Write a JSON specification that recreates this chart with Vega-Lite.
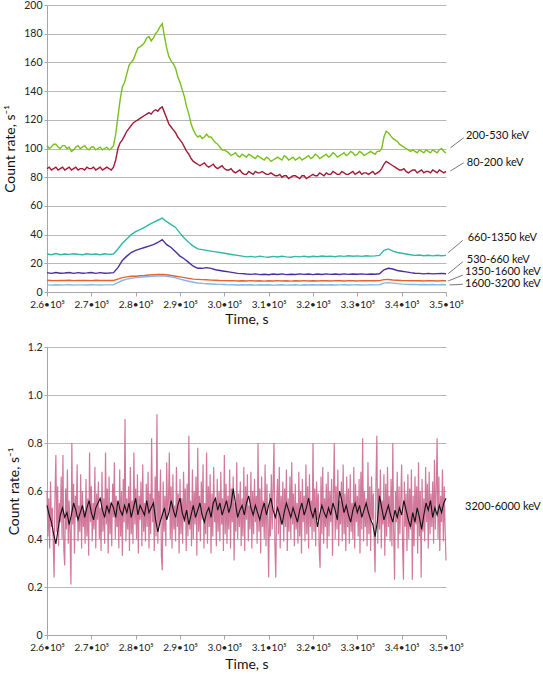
{
  "$schema": "https://vega.github.io/schema/vega-lite/v6.json",
  "padding": {"left": 3, "top": 0, "right": 0, "bottom": 0},
  "spacing": 16,
  "config": {
    "font": "Lato",
    "view": {"stroke": null},
    "axis": {
      "labelFont": "Lato", "titleFont": "Lato", "labelColor": "#222", "titleColor": "#111",
      "domainColor": "#a6a6a6", "tickColor": "#a6a6a6", "gridColor": "#b8b8b8",
      "labelFontSize": 10.5, "titleFontSize": 14, "titleFontWeight": "normal", "tickSize": 4, "labelOverlap": false
    }
  },
  "datasets": {
    "top": [
      {"t":260000,"g":102,"r":86,"c":26.5,"p":13.5,"o":8.2,"b":5},
      {"t":261000,"g":101,"r":85,"c":26,"p":13,"o":8,"b":4.8},
      {"t":262000,"g":103,"r":87,"c":26.8,"p":13.6,"o":7.9,"b":5.1},
      {"t":263000,"g":100,"r":86,"c":26,"p":13.1,"o":8.1,"b":4.9},
      {"t":264000,"g":102,"r":85,"c":26.5,"p":13.2,"o":8,"b":5},
      {"t":265000,"g":101,"r":87,"c":26.2,"p":13.6,"o":8.2,"b":5.1},
      {"t":266000,"g":99,"r":86,"c":26.7,"p":13,"o":7.9,"b":4.8},
      {"t":267000,"g":102,"r":85,"c":26.3,"p":13.5,"o":8,"b":5},
      {"t":268000,"g":101,"r":86,"c":26,"p":13.1,"o":8.1,"b":5},
      {"t":269000,"g":100,"r":87,"c":26.6,"p":13.3,"o":8,"b":4.9},
      {"t":270000,"g":101,"r":86,"c":26.1,"p":13.6,"o":7.9,"b":5.1},
      {"t":271000,"g":99,"r":85,"c":26.5,"p":13,"o":8.2,"b":5},
      {"t":272000,"g":101,"r":87,"c":26,"p":13.5,"o":8,"b":4.9},
      {"t":273000,"g":100,"r":86,"c":26.6,"p":13.1,"o":8.1,"b":5},
      {"t":274000,"g":99,"r":86,"c":26.2,"p":13.2,"o":8,"b":5},
      {"t":275000,"g":102,"r":87,"c":26.5,"p":13.5,"o":8,"b":5.1},
      {"t":276000,"g":122,"r":100,"c":30,"p":17,"o":9,"b":6.5},
      {"t":277000,"g":143,"r":106,"c":34,"p":22,"o":10,"b":8},
      {"t":278000,"g":152,"r":112,"c":37,"p":25,"o":10.5,"b":9},
      {"t":279000,"g":160,"r":116,"c":40,"p":27.5,"o":11,"b":9.5},
      {"t":280000,"g":166,"r":119,"c":42,"p":29,"o":11,"b":10},
      {"t":281000,"g":171,"r":121,"c":43.5,"p":30,"o":11.3,"b":10.3},
      {"t":282000,"g":174,"r":123,"c":45,"p":31,"o":11.5,"b":10.6},
      {"t":283000,"g":178,"r":125,"c":47,"p":32,"o":11.8,"b":10.8},
      {"t":284000,"g":177,"r":126,"c":48.5,"p":33,"o":12,"b":11},
      {"t":285000,"g":182,"r":126,"c":50,"p":34.5,"o":12.2,"b":11.2},
      {"t":286000,"g":187,"r":129,"c":51.5,"p":36.5,"o":12.3,"b":11.3},
      {"t":287000,"g":170,"r":121,"c":49,"p":33,"o":12,"b":11},
      {"t":288000,"g":161,"r":115,"c":47,"p":31,"o":11.5,"b":10.5},
      {"t":289000,"g":156,"r":111,"c":45,"p":28,"o":11,"b":9.8},
      {"t":290000,"g":146,"r":106,"c":41,"p":25,"o":10.5,"b":9},
      {"t":291000,"g":136,"r":101,"c":37.5,"p":23,"o":10,"b":8.2},
      {"t":292000,"g":124,"r":96,"c":34.5,"p":20.5,"o":9.5,"b":7.5},
      {"t":293000,"g":113,"r":91,"c":32,"p":18,"o":9,"b":6.8},
      {"t":294000,"g":108,"r":89,"c":30,"p":16.5,"o":8.8,"b":6.3},
      {"t":295000,"g":107,"r":89,"c":29.5,"p":16.5,"o":8.6,"b":6},
      {"t":296000,"g":110,"r":88,"c":29,"p":17,"o":8.5,"b":5.8},
      {"t":297000,"g":108,"r":88,"c":28.5,"p":16.5,"o":8.3,"b":5.6},
      {"t":298000,"g":104,"r":87,"c":28,"p":15.5,"o":8.2,"b":5.4},
      {"t":299000,"g":101,"r":87,"c":27.5,"p":15,"o":8,"b":5.3},
      {"t":300000,"g":99,"r":86,"c":27,"p":14.5,"o":7.9,"b":5.2},
      {"t":301000,"g":97,"r":85,"c":26.5,"p":14,"o":7.8,"b":5},
      {"t":302000,"g":96,"r":84,"c":26,"p":13.5,"o":7.9,"b":5.1},
      {"t":303000,"g":95,"r":84,"c":25.5,"p":13,"o":7.7,"b":4.9},
      {"t":304000,"g":96,"r":83,"c":25,"p":12.8,"o":7.8,"b":5},
      {"t":305000,"g":94,"r":82,"c":24.5,"p":12.5,"o":7.7,"b":4.9},
      {"t":306000,"g":95,"r":83,"c":24.8,"p":12.3,"o":7.9,"b":5},
      {"t":307000,"g":93,"r":84,"c":24.3,"p":12.6,"o":7.7,"b":4.8},
      {"t":308000,"g":94,"r":83,"c":25,"p":12.1,"o":7.8,"b":5},
      {"t":309000,"g":92,"r":83,"c":24.5,"p":12.4,"o":7.6,"b":4.9},
      {"t":310000,"g":93,"r":82,"c":24.2,"p":12,"o":7.8,"b":5},
      {"t":311000,"g":92,"r":82,"c":24.8,"p":12.5,"o":7.7,"b":4.8},
      {"t":312000,"g":94,"r":81,"c":24.4,"p":12.2,"o":7.9,"b":4.9},
      {"t":313000,"g":92,"r":80,"c":25,"p":12.6,"o":7.7,"b":5},
      {"t":314000,"g":94,"r":81,"c":24.5,"p":12.1,"o":7.8,"b":4.8},
      {"t":315000,"g":93,"r":80,"c":24.2,"p":12.4,"o":7.6,"b":4.9},
      {"t":316000,"g":92,"r":81,"c":24.8,"p":12.2,"o":7.8,"b":5},
      {"t":317000,"g":94,"r":79,"c":24.5,"p":12.6,"o":7.7,"b":4.8},
      {"t":318000,"g":93,"r":81,"c":25,"p":12.3,"o":7.9,"b":5},
      {"t":319000,"g":95,"r":80,"c":24.4,"p":12.5,"o":7.7,"b":4.9},
      {"t":320000,"g":94,"r":82,"c":24.9,"p":12.1,"o":7.8,"b":5},
      {"t":321000,"g":95,"r":81,"c":24.6,"p":12.5,"o":7.7,"b":4.9},
      {"t":322000,"g":94,"r":82,"c":25.1,"p":12.2,"o":7.9,"b":5},
      {"t":323000,"g":96,"r":83,"c":24.7,"p":12.6,"o":7.8,"b":4.9},
      {"t":324000,"g":95,"r":82,"c":25,"p":12.3,"o":7.7,"b":5.1},
      {"t":325000,"g":96,"r":83,"c":24.6,"p":12.5,"o":7.9,"b":4.9},
      {"t":326000,"g":95,"r":82,"c":25.2,"p":12.2,"o":7.8,"b":5},
      {"t":327000,"g":97,"r":83,"c":24.8,"p":12.6,"o":7.7,"b":5.1},
      {"t":328000,"g":96,"r":82,"c":25.3,"p":12.3,"o":7.9,"b":4.9},
      {"t":329000,"g":97,"r":84,"c":24.9,"p":12.5,"o":7.8,"b":5},
      {"t":330000,"g":96,"r":83,"c":25.2,"p":12.4,"o":7.7,"b":5.1},
      {"t":331000,"g":97,"r":82,"c":24.8,"p":12.6,"o":7.9,"b":4.9},
      {"t":332000,"g":96,"r":83,"c":25.3,"p":12.3,"o":7.8,"b":5},
      {"t":333000,"g":98,"r":83,"c":25,"p":12.5,"o":7.9,"b":5.1},
      {"t":334000,"g":96,"r":82,"c":25.2,"p":12.4,"o":7.8,"b":5},
      {"t":335000,"g":98,"r":84,"c":25.5,"p":12.7,"o":7.9,"b":5.1},
      {"t":336000,"g":108,"r":89,"c":29,"p":15.5,"o":8.6,"b":6.2},
      {"t":337000,"g":111,"r":90,"c":30,"p":16.5,"o":8.7,"b":6.5},
      {"t":338000,"g":107,"r":88,"c":28.5,"p":16,"o":8.4,"b":6.2},
      {"t":339000,"g":105,"r":86,"c":27.5,"p":15,"o":8.2,"b":5.8},
      {"t":340000,"g":102,"r":85,"c":27,"p":14.5,"o":8,"b":5.5},
      {"t":341000,"g":100,"r":84,"c":26.5,"p":14,"o":7.9,"b":5.3},
      {"t":342000,"g":98,"r":84,"c":26,"p":13.5,"o":7.8,"b":5.2},
      {"t":343000,"g":98,"r":85,"c":25.5,"p":13.1,"o":7.9,"b":5.3},
      {"t":344000,"g":99,"r":84,"c":25.8,"p":13,"o":7.8,"b":5.1},
      {"t":345000,"g":97,"r":83,"c":25.3,"p":12.6,"o":7.7,"b":5.2},
      {"t":346000,"g":98,"r":84,"c":25.6,"p":13,"o":7.9,"b":5.1},
      {"t":347000,"g":99,"r":85,"c":25.2,"p":12.6,"o":7.8,"b":5.2},
      {"t":348000,"g":97,"r":83,"c":25.6,"p":12.8,"o":7.7,"b":5},
      {"t":349000,"g":100,"r":84,"c":25.3,"p":13,"o":7.9,"b":5.2},
      {"t":350000,"g":97,"r":84,"c":25.5,"p":12.7,"o":7.8,"b":5.1},
      {"t":260500,"g":100,"r":87},{"t":261500,"g":103,"r":86},{"t":262500,"g":101,"r":85},{"t":263500,"g":102,"r":87},
      {"t":264500,"g":100,"r":86},{"t":265500,"g":98,"r":85},{"t":266500,"g":101,"r":87},{"t":267500,"g":100,"r":86},
      {"t":268500,"g":102,"r":85},{"t":269500,"g":99,"r":86},{"t":270500,"g":101,"r":87},{"t":271500,"g":100,"r":86},
      {"t":272500,"g":99,"r":85},{"t":273500,"g":101,"r":87},{"t":274500,"g":100,"r":85},{"t":275500,"g":110,"r":92},
      {"t":276500,"g":134,"r":104},{"t":277500,"g":146,"r":109},{"t":278500,"g":158,"r":114},{"t":279500,"g":162,"r":118},
      {"t":280500,"g":170,"r":120},{"t":281500,"g":172,"r":122},{"t":282500,"g":177,"r":124},{"t":283500,"g":175,"r":124},
      {"t":284500,"g":180,"r":127},{"t":285500,"g":185,"r":128},{"t":286500,"g":178,"r":125},{"t":287500,"g":164,"r":117},
      {"t":288500,"g":159,"r":113},{"t":289500,"g":150,"r":108},{"t":290500,"g":141,"r":104},{"t":291500,"g":129,"r":98},
      {"t":292500,"g":117,"r":93},{"t":293500,"g":110,"r":90},{"t":294500,"g":109,"r":88},{"t":295500,"g":108,"r":90},
      {"t":296500,"g":108,"r":87},{"t":297500,"g":106,"r":89},{"t":298500,"g":103,"r":86},{"t":299500,"g":99,"r":88},
      {"t":300500,"g":98,"r":85},{"t":301500,"g":95,"r":86},{"t":302500,"g":97,"r":83},{"t":303500,"g":94,"r":85},
      {"t":304500,"g":95,"r":82},{"t":305500,"g":96,"r":84},{"t":306500,"g":94,"r":82},{"t":307500,"g":95,"r":83},
      {"t":308500,"g":93,"r":84},{"t":309500,"g":94,"r":82},{"t":310500,"g":91,"r":83},{"t":311500,"g":93,"r":81},
      {"t":312500,"g":93,"r":82},{"t":313500,"g":95,"r":81},{"t":314500,"g":92,"r":79},{"t":315500,"g":94,"r":81},
      {"t":316500,"g":93,"r":80},{"t":317500,"g":92,"r":81},{"t":318500,"g":94,"r":79},{"t":319500,"g":93,"r":81},
      {"t":320500,"g":96,"r":81},{"t":321500,"g":93,"r":83},{"t":322500,"g":95,"r":81},{"t":323500,"g":94,"r":82},
      {"t":324500,"g":97,"r":84},{"t":325500,"g":94,"r":82},{"t":326500,"g":96,"r":84},{"t":327500,"g":95,"r":82},
      {"t":328500,"g":98,"r":83},{"t":329500,"g":95,"r":82},{"t":330500,"g":98,"r":84},{"t":331500,"g":95,"r":83},
      {"t":332500,"g":97,"r":82},{"t":333500,"g":97,"r":84},{"t":334500,"g":98,"r":83},{"t":335500,"g":100,"r":86},
      {"t":336500,"g":112,"r":91},{"t":337500,"g":109,"r":89},{"t":338500,"g":106,"r":87},{"t":339500,"g":103,"r":85},
      {"t":340500,"g":101,"r":86},{"t":341500,"g":99,"r":83},{"t":342500,"g":99,"r":85},{"t":343500,"g":97,"r":83},
      {"t":344500,"g":98,"r":85},{"t":345500,"g":99,"r":84},{"t":346500,"g":97,"r":83},{"t":347500,"g":98,"r":84},
      {"t":348500,"g":99,"r":85},{"t":349500,"g":98,"r":83}
    ],
    "labs": [
      {"label":"200-530 keV","x1":351000,"y1":100.5,"x2":354000,"y2":107.5,"tx":354500,"ty":108.7},
      {"label":"80-200 keV","x1":351000,"y1":84.3,"x2":354000,"y2":90.1,"tx":354700,"ty":90.1},
      {"label":"660-1350 keV","x1":350500,"y1":27.4,"x2":353800,"y2":36,"tx":354900,"ty":37.8},
      {"label":"530-660 keV","x1":350500,"y1":12.8,"x2":353800,"y2":21.1,"tx":354700,"ty":22.3},
      {"label":"1350-1600 keV","x1":350500,"y1":7.7,"x2":353800,"y2":11.8,"tx":354300,"ty":13.9},
      {"label":"1600-3200 keV","x1":350800,"y1":4.9,"x2":353800,"y2":5.4,"tx":354300,"ty":5.6}
    ],
    "pink": [
      {"t":260000,"v":0.60},{"t":260200,"v":0.41},{"t":260400,"v":0.57},{"t":260600,"v":0.36},{"t":260800,"v":0.64},{"t":261000,"v":0.45},{"t":261200,"v":0.53},{"t":261400,"v":0.39},{"t":261600,"v":0.24},{"t":261800,"v":0.58},
      {"t":262000,"v":0.75},{"t":262200,"v":0.43},{"t":262400,"v":0.62},{"t":262600,"v":0.37},{"t":262800,"v":0.55},{"t":263000,"v":0.47},{"t":263200,"v":0.66},{"t":263400,"v":0.40},{"t":263600,"v":0.75},{"t":263800,"v":0.35},
      {"t":264000,"v":0.29},{"t":264200,"v":0.61},{"t":264400,"v":0.44},{"t":264600,"v":0.69},{"t":264800,"v":0.38},{"t":265000,"v":0.56},{"t":265200,"v":0.42},{"t":265400,"v":0.21},{"t":265600,"v":0.80},{"t":265800,"v":0.46},
      {"t":266000,"v":0.63},{"t":266200,"v":0.34},{"t":266400,"v":0.58},{"t":266600,"v":0.49},{"t":266800,"v":0.71},{"t":267000,"v":0.39},{"t":267200,"v":0.54},{"t":267400,"v":0.43},{"t":267600,"v":0.67},{"t":267800,"v":0.36},
      {"t":268000,"v":0.60},{"t":268200,"v":0.45},{"t":268400,"v":0.52},{"t":268600,"v":0.38},{"t":268800,"v":0.65},{"t":269000,"v":0.41},{"t":269200,"v":0.57},{"t":269400,"v":0.33},{"t":269600,"v":0.76},{"t":269800,"v":0.47},
      {"t":270000,"v":0.62},{"t":270200,"v":0.39},{"t":270400,"v":0.55},{"t":270600,"v":0.44},{"t":270800,"v":0.70},{"t":271000,"v":0.36},{"t":271200,"v":0.59},{"t":271400,"v":0.48},{"t":271600,"v":0.64},{"t":271800,"v":0.40},
      {"t":272000,"v":0.53},{"t":272200,"v":0.35},{"t":272400,"v":0.68},{"t":272600,"v":0.43},{"t":272800,"v":0.57},{"t":273000,"v":0.38},{"t":273200,"v":0.76},{"t":273400,"v":0.46},{"t":273600,"v":0.61},{"t":273800,"v":0.34},
      {"t":274000,"v":0.66},{"t":274200,"v":0.42},{"t":274400,"v":0.55},{"t":274600,"v":0.37},{"t":274800,"v":0.63},{"t":275000,"v":0.49},{"t":275200,"v":0.72},{"t":275400,"v":0.40},{"t":275600,"v":0.58},{"t":275800,"v":0.45},
      {"t":276000,"v":0.54},{"t":276200,"v":0.36},{"t":276400,"v":0.69},{"t":276600,"v":0.41},{"t":276800,"v":0.60},{"t":277000,"v":0.33},{"t":277200,"v":0.65},{"t":277400,"v":0.47},{"t":277600,"v":0.90},{"t":277800,"v":0.39},
      {"t":278000,"v":0.57},{"t":278200,"v":0.44},{"t":278400,"v":0.62},{"t":278600,"v":0.35},{"t":278800,"v":0.70},{"t":279000,"v":0.42},{"t":279200,"v":0.56},{"t":279400,"v":0.38},{"t":279600,"v":0.76},{"t":279800,"v":0.46},
      {"t":280000,"v":0.61},{"t":280200,"v":0.40},{"t":280400,"v":0.67},{"t":280600,"v":0.34},{"t":280800,"v":0.58},{"t":281000,"v":0.48},{"t":281200,"v":0.64},{"t":281400,"v":0.37},{"t":281600,"v":0.71},{"t":281800,"v":0.43},
      {"t":282000,"v":0.55},{"t":282200,"v":0.39},{"t":282400,"v":0.63},{"t":282600,"v":0.45},{"t":282800,"v":0.68},{"t":283000,"v":0.36},{"t":283200,"v":0.59},{"t":283400,"v":0.42},{"t":283600,"v":0.82},{"t":283800,"v":0.47},
      {"t":284000,"v":0.57},{"t":284200,"v":0.35},{"t":284400,"v":0.66},{"t":284600,"v":0.41},{"t":284800,"v":0.92},{"t":285000,"v":0.38},{"t":285200,"v":0.60},{"t":285400,"v":0.46},{"t":285600,"v":0.69},{"t":285800,"v":0.33},
      {"t":286000,"v":0.27},{"t":286200,"v":0.64},{"t":286400,"v":0.43},{"t":286600,"v":0.58},{"t":286800,"v":0.37},{"t":287000,"v":0.72},{"t":287200,"v":0.49},{"t":287400,"v":0.56},{"t":287600,"v":0.76},{"t":287800,"v":0.40},
      {"t":288000,"v":0.62},{"t":288200,"v":0.36},{"t":288400,"v":0.67},{"t":288600,"v":0.44},{"t":288800,"v":0.54},{"t":289000,"v":0.39},{"t":289200,"v":0.70},{"t":289400,"v":0.45},{"t":289600,"v":0.59},{"t":289800,"v":0.34},
      {"t":290000,"v":0.65},{"t":290200,"v":0.42},{"t":290400,"v":0.57},{"t":290600,"v":0.38},{"t":290800,"v":0.68},{"t":291000,"v":0.47},{"t":291200,"v":0.61},{"t":291400,"v":0.35},{"t":291600,"v":0.63},{"t":291800,"v":0.41},
      {"t":292000,"v":0.83},{"t":292200,"v":0.44},{"t":292400,"v":0.56},{"t":292600,"v":0.37},{"t":292800,"v":0.69},{"t":293000,"v":0.40},{"t":293200,"v":0.60},{"t":293400,"v":0.46},{"t":293600,"v":0.66},{"t":293800,"v":0.33},
      {"t":294000,"v":0.78},{"t":294200,"v":0.43},{"t":294400,"v":0.58},{"t":294600,"v":0.39},{"t":294800,"v":0.64},{"t":295000,"v":0.48},{"t":295200,"v":0.71},{"t":295400,"v":0.36},{"t":295600,"v":0.55},{"t":295800,"v":0.42},
      {"t":296000,"v":0.76},{"t":296200,"v":0.38},{"t":296400,"v":0.62},{"t":296600,"v":0.45},{"t":296800,"v":0.67},{"t":297000,"v":0.34},{"t":297200,"v":0.59},{"t":297400,"v":0.41},{"t":297600,"v":0.70},{"t":297800,"v":0.47},
      {"t":298000,"v":0.56},{"t":298200,"v":0.37},{"t":298400,"v":0.65},{"t":298600,"v":0.43},{"t":298800,"v":0.60},{"t":299000,"v":0.39},{"t":299200,"v":0.68},{"t":299400,"v":0.46},{"t":299600,"v":0.57},{"t":299800,"v":0.35},
      {"t":300000,"v":0.75},{"t":300200,"v":0.42},{"t":300400,"v":0.63},{"t":300600,"v":0.38},{"t":300800,"v":0.58},{"t":301000,"v":0.44},{"t":301200,"v":0.69},{"t":301400,"v":0.36},{"t":301600,"v":0.61},{"t":301800,"v":0.47},
      {"t":302000,"v":0.66},{"t":302200,"v":0.31},{"t":302400,"v":0.55},{"t":302600,"v":0.43},{"t":302800,"v":0.72},{"t":303000,"v":0.40},{"t":303200,"v":0.59},{"t":303400,"v":0.45},{"t":303600,"v":0.64},{"t":303800,"v":0.37},
      {"t":304000,"v":0.57},{"t":304200,"v":0.41},{"t":304400,"v":0.70},{"t":304600,"v":0.35},{"t":304800,"v":0.62},{"t":305000,"v":0.48},{"t":305200,"v":0.67},{"t":305400,"v":0.39},{"t":305600,"v":0.54},{"t":305800,"v":0.44},
      {"t":306000,"v":0.68},{"t":306200,"v":0.36},{"t":306400,"v":0.60},{"t":306600,"v":0.42},{"t":306800,"v":0.65},{"t":307000,"v":0.47},{"t":307200,"v":0.58},{"t":307400,"v":0.38},{"t":307600,"v":0.80},{"t":307800,"v":0.43},
      {"t":308000,"v":0.61},{"t":308200,"v":0.34},{"t":308400,"v":0.66},{"t":308600,"v":0.45},{"t":308800,"v":0.56},{"t":309000,"v":0.40},{"t":309200,"v":0.71},{"t":309400,"v":0.37},{"t":309600,"v":0.63},{"t":309800,"v":0.46},
      {"t":310000,"v":0.24},{"t":310200,"v":0.59},{"t":310400,"v":0.41},{"t":310600,"v":0.67},{"t":310800,"v":0.44},{"t":311000,"v":0.62},{"t":311200,"v":0.80},{"t":311400,"v":0.38},{"t":311600,"v":0.24},{"t":311800,"v":0.55},
      {"t":312000,"v":0.65},{"t":312200,"v":0.42},{"t":312400,"v":0.70},{"t":312600,"v":0.36},{"t":312800,"v":0.58},{"t":313000,"v":0.47},{"t":313200,"v":0.64},{"t":313400,"v":0.39},{"t":313600,"v":0.61},{"t":313800,"v":0.45},
      {"t":314000,"v":0.69},{"t":314200,"v":0.35},{"t":314400,"v":0.57},{"t":314600,"v":0.43},{"t":314800,"v":0.66},{"t":315000,"v":0.40},{"t":315200,"v":0.72},{"t":315400,"v":0.46},{"t":315600,"v":0.59},{"t":315800,"v":0.37},
      {"t":316000,"v":0.63},{"t":316200,"v":0.44},{"t":316400,"v":0.55},{"t":316600,"v":0.38},{"t":316800,"v":0.68},{"t":317000,"v":0.41},{"t":317200,"v":0.60},{"t":317400,"v":0.34},{"t":317600,"v":0.65},{"t":317800,"v":0.47},
      {"t":318000,"v":0.58},{"t":318200,"v":0.39},{"t":318400,"v":0.71},{"t":318600,"v":0.42},{"t":318800,"v":0.62},{"t":319000,"v":0.36},{"t":319200,"v":0.67},{"t":319400,"v":0.45},{"t":319600,"v":0.56},{"t":319800,"v":0.40},
      {"t":320000,"v":0.80},{"t":320200,"v":0.43},{"t":320400,"v":0.61},{"t":320600,"v":0.37},{"t":320800,"v":0.64},{"t":321000,"v":0.48},{"t":321200,"v":0.59},{"t":321400,"v":0.35},{"t":321600,"v":0.28},{"t":321800,"v":0.66},
      {"t":322000,"v":0.42},{"t":322200,"v":0.70},{"t":322400,"v":0.38},{"t":322600,"v":0.57},{"t":322800,"v":0.45},{"t":323000,"v":0.63},{"t":323200,"v":0.36},{"t":323400,"v":0.68},{"t":323600,"v":0.41},{"t":323800,"v":0.60},
      {"t":324000,"v":0.47},{"t":324200,"v":0.65},{"t":324400,"v":0.33},{"t":324600,"v":0.58},{"t":324800,"v":0.80},{"t":325000,"v":0.40},{"t":325200,"v":0.62},{"t":325400,"v":0.44},{"t":325600,"v":0.69},{"t":325800,"v":0.37},
      {"t":326000,"v":0.56},{"t":326200,"v":0.46},{"t":326400,"v":0.64},{"t":326600,"v":0.39},{"t":326800,"v":0.71},{"t":327000,"v":0.42},{"t":327200,"v":0.59},{"t":327400,"v":0.35},{"t":327600,"v":0.66},{"t":327800,"v":0.45},
      {"t":328000,"v":0.61},{"t":328200,"v":0.38},{"t":328400,"v":0.67},{"t":328600,"v":0.43},{"t":328800,"v":0.55},{"t":329000,"v":0.40},{"t":329200,"v":0.70},{"t":329400,"v":0.36},{"t":329600,"v":0.63},{"t":329800,"v":0.47},
      {"t":330000,"v":0.58},{"t":330200,"v":0.41},{"t":330400,"v":0.65},{"t":330600,"v":0.34},{"t":330800,"v":0.68},{"t":331000,"v":0.44},{"t":331200,"v":0.82},{"t":331400,"v":0.39},{"t":331600,"v":0.60},{"t":331800,"v":0.45},
      {"t":332000,"v":0.57},{"t":332200,"v":0.37},{"t":332400,"v":0.72},{"t":332600,"v":0.42},{"t":332800,"v":0.62},{"t":333000,"v":0.35},{"t":333200,"v":0.66},{"t":333400,"v":0.48},{"t":333600,"v":0.59},{"t":333800,"v":0.40},
      {"t":334000,"v":0.26},{"t":334200,"v":0.64},{"t":334400,"v":0.83},{"t":334600,"v":0.38},{"t":334800,"v":0.61},{"t":335000,"v":0.44},{"t":335200,"v":0.69},{"t":335400,"v":0.36},{"t":335600,"v":0.56},{"t":335800,"v":0.46},
      {"t":336000,"v":0.67},{"t":336200,"v":0.33},{"t":336400,"v":0.63},{"t":336600,"v":0.41},{"t":336800,"v":0.70},{"t":337000,"v":0.45},{"t":337200,"v":0.58},{"t":337400,"v":0.39},{"t":337600,"v":0.65},{"t":337800,"v":0.37},
      {"t":338000,"v":0.80},{"t":338200,"v":0.43},{"t":338400,"v":0.23},{"t":338600,"v":0.60},{"t":338800,"v":0.47},{"t":339000,"v":0.68},{"t":339200,"v":0.36},{"t":339400,"v":0.62},{"t":339600,"v":0.42},{"t":339800,"v":0.57},
      {"t":340000,"v":0.71},{"t":340200,"v":0.38},{"t":340400,"v":0.23},{"t":340600,"v":0.64},{"t":340800,"v":0.45},{"t":341000,"v":0.59},{"t":341200,"v":0.35},{"t":341400,"v":0.67},{"t":341600,"v":0.40},{"t":341800,"v":0.61},
      {"t":342000,"v":0.44},{"t":342200,"v":0.69},{"t":342400,"v":0.23},{"t":342600,"v":0.58},{"t":342800,"v":0.37},{"t":343000,"v":0.66},{"t":343200,"v":0.46},{"t":343400,"v":0.62},{"t":343600,"v":0.34},{"t":343800,"v":0.72},
      {"t":344000,"v":0.41},{"t":344200,"v":0.60},{"t":344400,"v":0.24},{"t":344600,"v":0.65},{"t":344800,"v":0.43},{"t":345000,"v":0.57},{"t":345200,"v":0.39},{"t":345400,"v":0.70},{"t":345600,"v":0.47},{"t":345800,"v":0.63},
      {"t":346000,"v":0.36},{"t":346200,"v":0.68},{"t":346400,"v":0.42},{"t":346600,"v":0.59},{"t":346800,"v":0.45},{"t":347000,"v":0.64},{"t":347200,"v":0.38},{"t":347400,"v":0.73},{"t":347600,"v":0.44},{"t":347800,"v":0.61},
      {"t":348000,"v":0.82},{"t":348200,"v":0.40},{"t":348400,"v":0.66},{"t":348600,"v":0.35},{"t":348800,"v":0.58},{"t":349000,"v":0.47},{"t":349200,"v":0.69},{"t":349400,"v":0.39},{"t":349600,"v":0.62},{"t":349800,"v":0.44},
      {"t":350000,"v":0.31}
    ],
    "black": [
      {"t":260000,"v":0.54},{"t":260500,"v":0.50},{"t":261000,"v":0.47},{"t":261500,"v":0.42},{"t":262000,"v":0.38},{"t":262500,"v":0.44},{"t":263000,"v":0.50},{"t":263500,"v":0.53},{"t":264000,"v":0.49},{"t":264500,"v":0.51},
      {"t":265000,"v":0.46},{"t":265500,"v":0.50},{"t":266000,"v":0.55},{"t":266500,"v":0.52},{"t":267000,"v":0.48},{"t":267500,"v":0.51},{"t":268000,"v":0.54},{"t":268500,"v":0.49},{"t":269000,"v":0.53},{"t":269500,"v":0.56},
      {"t":270000,"v":0.51},{"t":270500,"v":0.48},{"t":271000,"v":0.53},{"t":271500,"v":0.55},{"t":272000,"v":0.57},{"t":272500,"v":0.52},{"t":273000,"v":0.49},{"t":273500,"v":0.54},{"t":274000,"v":0.51},{"t":274500,"v":0.55},
      {"t":275000,"v":0.53},{"t":275500,"v":0.49},{"t":276000,"v":0.56},{"t":276500,"v":0.52},{"t":277000,"v":0.50},{"t":277500,"v":0.54},{"t":278000,"v":0.51},{"t":278500,"v":0.55},{"t":279000,"v":0.49},{"t":279500,"v":0.53},
      {"t":280000,"v":0.57},{"t":280500,"v":0.50},{"t":281000,"v":0.54},{"t":281500,"v":0.52},{"t":282000,"v":0.50},{"t":282500,"v":0.56},{"t":283000,"v":0.51},{"t":283500,"v":0.53},{"t":284000,"v":0.55},{"t":284500,"v":0.48},
      {"t":285000,"v":0.43},{"t":285500,"v":0.47},{"t":286000,"v":0.50},{"t":286500,"v":0.53},{"t":287000,"v":0.48},{"t":287500,"v":0.51},{"t":288000,"v":0.56},{"t":288500,"v":0.52},{"t":289000,"v":0.49},{"t":289500,"v":0.54},
      {"t":290000,"v":0.57},{"t":290500,"v":0.51},{"t":291000,"v":0.48},{"t":291500,"v":0.52},{"t":292000,"v":0.46},{"t":292500,"v":0.50},{"t":293000,"v":0.54},{"t":293500,"v":0.49},{"t":294000,"v":0.52},{"t":294500,"v":0.55},
      {"t":295000,"v":0.50},{"t":295500,"v":0.47},{"t":296000,"v":0.51},{"t":296500,"v":0.53},{"t":297000,"v":0.49},{"t":297500,"v":0.55},{"t":298000,"v":0.57},{"t":298500,"v":0.52},{"t":299000,"v":0.55},{"t":299500,"v":0.50},
      {"t":300000,"v":0.53},{"t":300500,"v":0.56},{"t":301000,"v":0.51},{"t":301500,"v":0.54},{"t":302000,"v":0.61},{"t":302500,"v":0.55},{"t":303000,"v":0.49},{"t":303500,"v":0.52},{"t":304000,"v":0.54},{"t":304500,"v":0.50},
      {"t":305000,"v":0.55},{"t":305500,"v":0.58},{"t":306000,"v":0.53},{"t":306500,"v":0.50},{"t":307000,"v":0.54},{"t":307500,"v":0.51},{"t":308000,"v":0.48},{"t":308500,"v":0.52},{"t":309000,"v":0.55},{"t":309500,"v":0.50},
      {"t":310000,"v":0.54},{"t":310500,"v":0.57},{"t":311000,"v":0.52},{"t":311500,"v":0.49},{"t":312000,"v":0.53},{"t":312500,"v":0.50},{"t":313000,"v":0.46},{"t":313500,"v":0.51},{"t":314000,"v":0.55},{"t":314500,"v":0.52},
      {"t":315000,"v":0.49},{"t":315500,"v":0.53},{"t":316000,"v":0.50},{"t":316500,"v":0.47},{"t":317000,"v":0.52},{"t":317500,"v":0.55},{"t":318000,"v":0.50},{"t":318500,"v":0.53},{"t":319000,"v":0.57},{"t":319500,"v":0.52},
      {"t":320000,"v":0.49},{"t":320500,"v":0.53},{"t":321000,"v":0.45},{"t":321500,"v":0.50},{"t":322000,"v":0.54},{"t":322500,"v":0.51},{"t":323000,"v":0.49},{"t":323500,"v":0.53},{"t":324000,"v":0.50},{"t":324500,"v":0.55},
      {"t":325000,"v":0.52},{"t":325500,"v":0.48},{"t":326000,"v":0.60},{"t":326500,"v":0.56},{"t":327000,"v":0.51},{"t":327500,"v":0.54},{"t":328000,"v":0.50},{"t":328500,"v":0.47},{"t":329000,"v":0.52},{"t":329500,"v":0.55},
      {"t":330000,"v":0.51},{"t":330500,"v":0.54},{"t":331000,"v":0.49},{"t":331500,"v":0.52},{"t":332000,"v":0.55},{"t":332500,"v":0.51},{"t":333000,"v":0.48},{"t":333500,"v":0.46},{"t":334000,"v":0.41},{"t":334500,"v":0.47},
      {"t":335000,"v":0.58},{"t":335500,"v":0.53},{"t":336000,"v":0.48},{"t":336500,"v":0.51},{"t":337000,"v":0.54},{"t":337500,"v":0.50},{"t":338000,"v":0.47},{"t":338500,"v":0.52},{"t":339000,"v":0.49},{"t":339500,"v":0.53},
      {"t":340000,"v":0.50},{"t":340500,"v":0.56},{"t":341000,"v":0.52},{"t":341500,"v":0.48},{"t":342000,"v":0.45},{"t":342500,"v":0.51},{"t":343000,"v":0.47},{"t":343500,"v":0.53},{"t":344000,"v":0.49},{"t":344500,"v":0.44},
      {"t":345000,"v":0.50},{"t":345500,"v":0.55},{"t":346000,"v":0.52},{"t":346500,"v":0.56},{"t":347000,"v":0.49},{"t":347500,"v":0.53},{"t":348000,"v":0.50},{"t":348500,"v":0.54},{"t":349000,"v":0.51},{"t":349500,"v":0.55},
      {"t":350000,"v":0.57}
    ],
    "lab2": [{"label":"3200-6000 keV","tx":354300,"ty":0.533}]
  },
  "vconcat": [
    {
      "width": 399, "height": 287,
      "layer": [
        {
          "data": {"name": "top"},
          "transform": [{"fold": ["g","r","c","p","o","b"], "as": ["s","v"]}],
          "mark": {"type": "line", "strokeWidth": 1.4, "invalid": "filter"},
          "encoding": {
            "x": {"field": "t", "type": "quantitative", "title": "Time, s",
              "scale": {"domain": [260000, 350000], "nice": false, "zero": false},
              "axis": {"values": [260000,270000,280000,290000,300000,310000,320000,330000,340000,350000],
                "labelExpr": "format(datum.value/100000, '.1f') + '•10⁵'", "labelFlush": false, "labelFontSize": 10, "grid": false, "labelPadding": 3, "titlePadding": 3}},
            "y": {"field": "v", "type": "quantitative", "title": "Count rate, s⁻¹",
              "scale": {"domain": [0, 200], "nice": false},
              "axis": {"values": [0,20,40,60,80,100,120,140,160,180,200], "tickCount": 11, "grid": true, "tickSize": 3, "titlePadding": 6}},
            "color": {"field": "s", "type": "nominal", "legend": null,
              "scale": {"domain": ["g","r","c","p","o","b"], "range": ["#78c11c","#a01b36","#2fb8a6","#4a2f9e","#e8632b","#86b6e6"]}}
          }
        },
        {
          "data": {"name": "labs"},
          "mark": {"type": "rule", "color": "#555", "strokeWidth": 0.8},
          "encoding": {
            "x": {"field": "x1", "type": "quantitative", "title": "Time, s"},
            "x2": {"field": "x2"},
            "y": {"field": "y1", "type": "quantitative", "title": "Count rate, s⁻¹",
              "axis": {"values": [0,20,40,60,80,100,120,140,160,180,200], "tickCount": 11, "grid": true, "tickSize": 3, "titlePadding": 6}},
            "y2": {"field": "y2"}
          }
        },
        {
          "data": {"name": "labs"},
          "mark": {"type": "text", "align": "left", "baseline": "middle", "fontSize": 11, "font": "Lato", "color": "#111"},
          "encoding": {
            "x": {"field": "tx", "type": "quantitative", "title": "Time, s"},
            "y": {"field": "ty", "type": "quantitative", "title": "Count rate, s⁻¹",
              "axis": {"values": [0,20,40,60,80,100,120,140,160,180,200], "tickCount": 11, "grid": true, "tickSize": 3, "titlePadding": 6}},
            "text": {"field": "label"}
          }
        }
      ]
    },
    {
      "width": 399, "height": 288,
      "layer": [
        {
          "data": {"name": "pink"},
          "mark": {"type": "line", "strokeWidth": 1.2, "color": "#cc6a8f", "opacity": 0.9},
          "encoding": {
            "x": {"field": "t", "type": "quantitative", "title": "Time, s",
              "scale": {"domain": [260000, 350000], "nice": false, "zero": false},
              "axis": {"values": [260000,270000,280000,290000,300000,310000,320000,330000,340000,350000],
                "labelExpr": "format(datum.value/100000, '.1f') + '•10⁵'", "labelFlush": false, "labelFontSize": 10, "grid": false, "labelPadding": 3, "titlePadding": 5}},
            "y": {"field": "v", "type": "quantitative", "title": "Count rate, s⁻¹",
              "scale": {"domain": [0, 1.2], "nice": false},
              "axis": {"values": [0,0.2,0.4,0.6,0.8,1.0,1.2], "labelExpr": "datum.value == 0 ? '0' : format(datum.value, '.1f')", "grid": true, "tickSize": 3, "titlePadding": 6}}
          }
        },
        {
          "data": {"name": "black"},
          "mark": {"type": "line", "strokeWidth": 1.1, "color": "#111"},
          "encoding": {
            "x": {"field": "t", "type": "quantitative", "title": "Time, s"},
            "y": {"field": "v", "type": "quantitative", "title": "Count rate, s⁻¹"}
          }
        },
        {
          "data": {"name": "lab2"},
          "mark": {"type": "text", "align": "left", "baseline": "middle", "fontSize": 11, "font": "Lato", "color": "#111"},
          "encoding": {
            "x": {"field": "tx", "type": "quantitative", "title": "Time, s"},
            "y": {"field": "ty", "type": "quantitative", "title": "Count rate, s⁻¹"},
            "text": {"field": "label"}
          }
        }
      ]
    }
  ]
}
